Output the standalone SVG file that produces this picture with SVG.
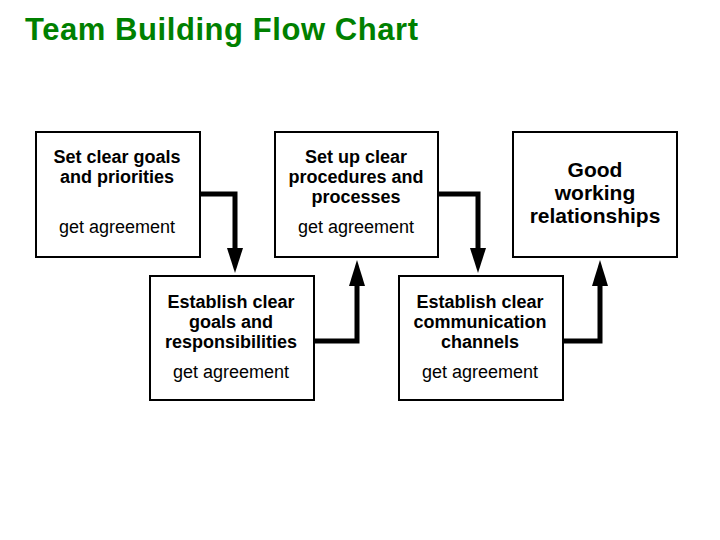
<svg xmlns="http://www.w3.org/2000/svg" width="720" height="540" viewBox="0 0 720 540">
<style>
.box{fill:#fff;stroke:#000;stroke-width:2}
.b{font-family:"Liberation Sans",Arial,sans-serif;font-weight:bold;font-size:18px;text-anchor:middle}
.g{font-family:"Liberation Sans",Arial,sans-serif;font-weight:bold;font-size:21px;text-anchor:middle}
.n{font-family:"Liberation Sans",Arial,sans-serif;font-size:18px;text-anchor:middle}
.c{fill:none;stroke:#000;stroke-width:5}
</style>
<rect width="720" height="540" fill="#fff"/>
<text x="25" y="40" font-family="Liberation Sans,Arial,sans-serif" font-size="31" font-weight="bold" fill="#008000" textLength="393" lengthAdjust="spacing">Team Building Flow Chart</text>
<g id="connectors">
<polyline class="c" points="200,194 235,194 235,250"/>
<polygon points="227,248 243,248 235,273"/>
<polyline class="c" points="314,341 357,341 357,284"/>
<polygon points="349,286 365,286 357,260"/>
<polyline class="c" points="438,194 478,194 478,250"/>
<polygon points="470,248 486,248 478,273"/>
<polyline class="c" points="563,341 600,341 600,284"/>
<polygon points="592,286 608,286 600,260"/>
</g>
<g id="n1"><rect class="box" x="36" y="132" width="164" height="125"/>
<text class="b" x="117" y="163">Set clear goals</text><text class="b" x="117" y="183">and priorities</text>
<text class="n" x="117" y="233">get agreement</text></g>
<g id="n2"><rect class="box" x="275" y="132" width="163" height="125"/>
<text class="b" x="356" y="163">Set up clear</text><text class="b" x="356" y="183">procedures and</text><text class="b" x="356" y="203">processes</text>
<text class="n" x="356" y="233">get agreement</text></g>
<g id="n3"><rect class="box" x="513" y="132" width="164" height="125"/>
<text class="g" x="595" y="177">Good</text><text class="g" x="595" y="200">working</text><text class="g" x="595" y="223">relationships</text></g>
<g id="n4"><rect class="box" x="150" y="276" width="164" height="124"/>
<text class="b" x="231" y="308">Establish clear</text><text class="b" x="231" y="328">goals and</text><text class="b" x="231" y="348">responsibilities</text>
<text class="n" x="231" y="378">get agreement</text></g>
<g id="n5"><rect class="box" x="399" y="276" width="164" height="124"/>
<text class="b" x="480" y="308">Establish clear</text><text class="b" x="480" y="328">communication</text><text class="b" x="480" y="348">channels</text>
<text class="n" x="480" y="378">get agreement</text></g>
</svg>
